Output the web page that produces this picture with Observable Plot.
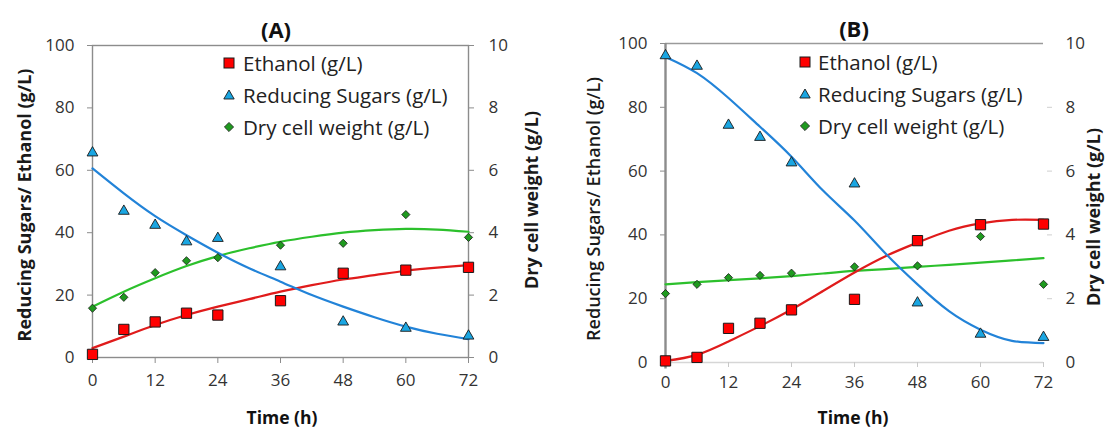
<!DOCTYPE html>
<html>
<head>
<meta charset="utf-8">
<script src="https://cdn.jsdelivr.net/npm/d3@7"></script>
<script src="https://cdn.jsdelivr.net/npm/@observablehq/plot@0.6"></script>
<style>
  html, body { margin: 0; padding: 0; background: #fff; }
  #wrap { position: relative; width: 1107px; height: 433px; overflow: hidden; font-family: "Open Sans", sans-serif; color: #222; }
  #wrap svg.plot { position: absolute; top: 0; }
  .vlbl { position: absolute; font-weight: bold; font-size: 18px; line-height: 20px; white-space: nowrap; color: #1a1a1a; transform: translate(-50%, -50%) rotate(-90deg); }
  .title { position: absolute; font-weight: bold; font-size: 22px; transform: translate(-50%, -50%); color: #111; white-space: nowrap; }
  .leg { position: absolute; font-size: 20.5px; color: #222; }
  .leg .row { position: absolute; white-space: nowrap; transform: translateY(-50%); }
</style>
</head>
<body>
<div id="wrap"></div>
<script>
// ---------- data ----------
const hours = [0, 6, 12, 18, 24, 36, 48, 60, 72];
const xTicks = [0, 12, 24, 36, 48, 60, 72];
const leftTicks = [0, 20, 40, 60, 80, 100];
const fitHours = [0, 6, 12, 18, 24, 30, 36, 42, 48, 54, 60, 66, 72];

// Panel A
const ethanolA = [1, 9, 11.4, 14.2, 13.6, 18.2, 27, 28, 28.9];
const sugarsA  = [65.6, 46.9, 42.4, 37.1, 38.2, 29.1, 11.4, 9.4, 6.9];
const dcwA     = [1.58, 1.93, 2.72, 3.10, 3.20, 3.60, 3.66, 4.58, 3.85];
const ethanolFitA = [3.0, 6.7, 10.4, 13.6, 16.3, 18.7, 21.1, 23.2, 25.0, 26.4, 27.8, 28.8, 29.6];
const sugarsFitA  = [60.6, 52.6, 45.3, 39.2, 33.6, 28.6, 24.3, 20.0, 16.3, 12.9, 9.9, 7.6, 5.9];
const dcwFitA     = [1.63, 2.11, 2.54, 2.93, 3.25, 3.50, 3.71, 3.87, 4.00, 4.08, 4.12, 4.10, 4.03];

// Panel B
const ethanolB = [0.5, 1.6, 10.7, 12.3, 16.5, 19.8, 38.2, 43.2, 43.4];
const sugarsB  = [96.2, 92.9, 74.4, 70.6, 62.6, 56.0, 18.7, 8.9, 7.9];
const dcwB     = [2.16, 2.45, 2.66, 2.73, 2.80, 3.00, 3.03, 3.95, 2.45];
const ethanolFitB = [0.5, 2.4, 6.6, 11.4, 16.6, 22.4, 28.2, 33.4, 37.6, 41.3, 43.6, 44.7, 44.7];
const sugarsFitB  = [95.8, 90.7, 82.9, 73.9, 64.5, 53.9, 44.5, 34.0, 24.5, 16.1, 10.3, 6.8, 6.1];
const dcwFitB     = [2.45, 2.52, 2.58, 2.64, 2.71, 2.79, 2.87, 2.93, 3.00, 3.06, 3.13, 3.20, 3.27];

const legendLabels = ["Ethanol (g/L)", "Reducing Sugars (g/L)", "Dry cell weight (g/L)"];
const titles = ["(A)", "(B)"];
const xLabel = "Time (h)";
const yLeftLabel = "Reducing Sugars/ Ethanol (g/L)";
const yRightLabel = "Dry cell weight (g/L)";

// ---------- styles ----------
const C = {
  redFill: "#ff0000", blueFill: "#1aa6e2", greenFill: "#1f9a1f",
  redLine: "#e01b1b", blueLine: "#2283d8", greenLine: "#2cc02c",
  markStroke: "#1a1a1a"
};
const FONT = "Open Sans";
const TICKFS = 17;

function rows(ys) { return hours.map((h, i) => ({h, v: ys[i]})); }
function fitRows(ys) { return fitHours.map((h, i) => ({h, v: ys[i]})); }

function seriesMarks(eth, sug, dcw, ethFit, sugFit, dcwFit) {
  return [
    Plot.line(fitRows(dcwFit), {x: "h", y: d => d.v * 10, stroke: C.greenLine, strokeWidth: 2.2, curve: "natural"}),
    Plot.line(fitRows(ethFit), {x: "h", y: "v", stroke: C.redLine, strokeWidth: 2.2, curve: "natural"}),
    Plot.line(fitRows(sugFit), {x: "h", y: "v", stroke: C.blueLine, strokeWidth: 2.2, curve: "natural"}),
    Plot.dot(rows(dcw), {x: "h", y: d => d.v * 10, symbol: "diamond2", r: 3.7, fill: C.greenFill, stroke: C.markStroke, strokeWidth: 0.8}),
    Plot.dot(rows(sug), {x: "h", y: "v", symbol: "triangle", r: 4.0, fill: C.blueFill, stroke: C.markStroke, strokeWidth: 0.9}),
    Plot.dot(rows(eth), {x: "h", y: "v", symbol: "square", r: 5.8, fill: C.redFill, stroke: C.markStroke, strokeWidth: 1})
  ];
}

const wrap = document.getElementById("wrap");

// ---------- Panel A ----------
const plotA = Plot.plot({
  width: 553, height: 433,
  marginLeft: 92, marginRight: 85, marginTop: 45, marginBottom: 76,
  style: {fontFamily: FONT, fontSize: TICKFS + "px", background: "transparent"},
  x: {domain: [0, 72]},
  y: {domain: [0, 100]},
  marks: [
    Plot.frame({stroke: "#8c8c8c", strokeWidth: 1.4}),
    Plot.axisY(leftTicks, {anchor: "left", tickSize: 5, tickPadding: 13, stroke: "#8c8c8c", fill: "#333", fontSize: TICKFS, label: null}),
    Plot.axisY(leftTicks, {anchor: "right", tickSize: 5, tickPadding: 15, stroke: "#8c8c8c", fill: "#333", fontSize: TICKFS, tickFormat: d => d / 10, label: null}),
    Plot.axisX(xTicks, {anchor: "bottom", tickSize: 6, tickPadding: 10, stroke: "#8c8c8c", fill: "#333", fontSize: TICKFS, label: null}),
    ...seriesMarks(ethanolA, sugarsA, dcwA, ethanolFitA, sugarsFitA, dcwFitA)
  ]
});
plotA.classList.add("plot");
plotA.style.left = "0px";
wrap.appendChild(plotA);

// ---------- Panel B ----------
const plotB = Plot.plot({
  width: 554, height: 433,
  marginLeft: 112, marginRight: 64, marginTop: 43, marginBottom: 71,
  style: {fontFamily: FONT, fontSize: TICKFS + "px", background: "transparent"},
  x: {domain: [0, 72]},
  y: {domain: [0, 100]},
  marks: [
    Plot.ruleY([100], {stroke: "#9a9a9a", strokeWidth: 1.3}),
    Plot.ruleY([0], {stroke: "#d6d6d6", strokeWidth: 1.3}),
    Plot.axisY(leftTicks, {anchor: "left", tickSize: 5, tickPadding: 13, stroke: "#8c8c8c", fill: "#333", fontSize: TICKFS, label: null}),
    Plot.axisY(leftTicks.slice(1, 5), {anchor: "right", tickSize: 5, tickPadding: 14, stroke: "#cfcfcf", fill: "#333", fontSize: TICKFS, tickFormat: d => d / 10, label: null, dx: 3}),
    Plot.axisY([0, 100], {anchor: "right", tickSize: 0, tickPadding: 19, fill: "#333", fontSize: TICKFS, tickFormat: d => d / 10, label: null, dx: 3}),
    Plot.axisX(xTicks, {anchor: "bottom", tickSize: 5, tickPadding: 8, stroke: "#c8c8c8", fill: "#333", fontSize: TICKFS, label: null}),
    Plot.ruleX([0], {y1: -2, y2: 100, stroke: "#8c8c8c", strokeWidth: 2.4}),
    ...seriesMarks(ethanolB, sugarsB, dcwB, ethanolFitB, sugarsFitB, dcwFitB)
  ]
});
plotB.classList.add("plot");
plotB.style.left = "553px";
wrap.appendChild(plotB);

// ---------- HTML text: titles, axis labels, legends ----------
function add(cls, text, css) {
  const el = document.createElement("div");
  el.className = cls;
  el.textContent = text;
  Object.assign(el.style, css);
  wrap.appendChild(el);
  return el;
}
add("title", titles[0], {left: "276px", top: "29px"});
add("title", titles[1], {left: "854px", top: "28px"});
add("title", xLabel, {left: "282px", top: "417px", fontSize: "17.5px"});
add("title", xLabel, {left: "853px", top: "417px", fontSize: "17.5px"});
add("vlbl", yLeftLabel, {left: "24px", top: "205px"});
add("vlbl", yRightLabel, {left: "531px", top: "200px"});
add("vlbl", yLeftLabel, {left: "593px", top: "209px", fontWeight: "600"});
add("vlbl", yRightLabel, {left: "1093px", top: "217px"});

const symbolSvgs = [
  `<svg width="14" height="14" viewBox="-7 -7 14 14"><rect x="-5" y="-5" width="10" height="10" fill="${C.redFill}" stroke="${C.markStroke}" stroke-width="1"/></svg>`,
  `<svg width="14" height="14" viewBox="-7 -7 14 14"><path d="M0,-5L5.2,4L-5.2,4Z" fill="${C.blueFill}" stroke="${C.markStroke}" stroke-width="0.9"/></svg>`,
  `<svg width="14" height="14" viewBox="-7 -7 14 14"><path d="M0,-4.6L4.6,0L0,4.6L-4.6,0Z" fill="${C.greenFill}" stroke="${C.markStroke}" stroke-width="0.8"/></svg>`
];
function legend(symX, textX, ys) {
  const leg = document.createElement("div");
  leg.className = "leg";
  Object.assign(leg.style, {left: "0px", top: "0px"});
  legendLabels.forEach((lab, i) => {
    const r = document.createElement("div");
    r.className = "row";
    Object.assign(r.style, {left: textX + "px", top: ys[i] + "px"});
    r.textContent = lab;
    leg.appendChild(r);
    const s = document.createElement("div");
    s.innerHTML = symbolSvgs[i];
    Object.assign(s.style, {position: "absolute", left: (symX - 7) + "px", top: (ys[i] - 7) + "px", width: "14px", height: "14px", lineHeight: "0"});
    leg.appendChild(s);
  });
  wrap.appendChild(leg);
}
legend(229, 243, [63, 95, 127]);
legend(805, 818, [62, 94, 126]);
</script>
</body>
</html>
